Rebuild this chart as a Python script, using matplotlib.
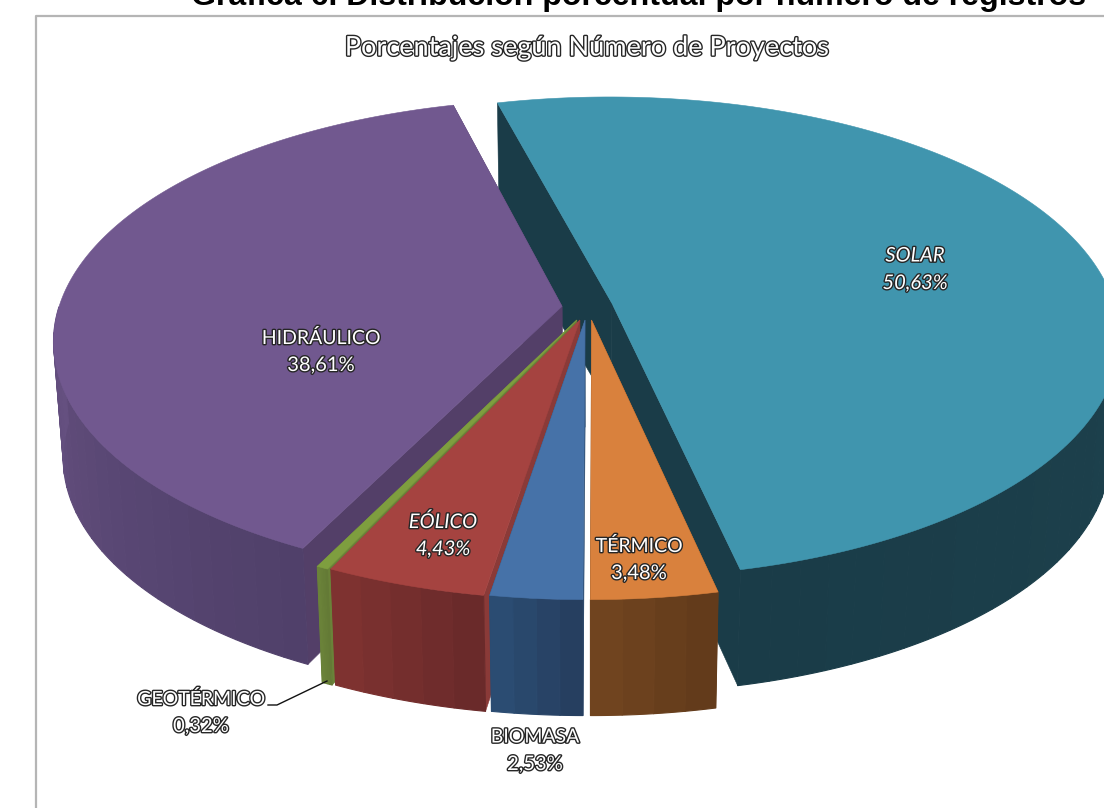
import numpy as np
import matplotlib
matplotlib.use("Agg")
import matplotlib.pyplot as plt
from matplotlib.patches import Polygon
from matplotlib.collections import PolyCollection
import matplotlib.patheffects as pe

# ---- data (order: clockwise from the front, starting with TERMICO)
categories = ["TÉRMICO", "BIOMASA", "EÓLICO", "GEOTÉRMICO", "HIDRÁULICO", "SOLAR"]
values = [3.48, 2.53, 4.43, 0.32, 38.61, 50.63]

# ---- style
first_angle = -12.4
explode = {"TÉRMICO": (.003, 0), "BIOMASA": (-.0098, 0), "EÓLICO": (-.02, 0),
           "GEOTÉRMICO": (-.026, 0), "HIDRÁULICO": (-.0556, -.0575), "SOLAR": (.0438, -.07)}
top_col = {"TÉRMICO": "#D9813D", "BIOMASA": "#4672A8", "EÓLICO": "#A54340",
           "GEOTÉRMICO": "#7E9E3F", "HIDRÁULICO": "#71588F", "SOLAR": "#4095AE"}
wall_col = {"TÉRMICO": "#70441F", "BIOMASA": "#2A4A6E", "EÓLICO": "#8A3A38",
            "GEOTÉRMICO": "#6A8239", "HIDRÁULICO": "#533F68", "SOLAR": "#1A3C48"}
side_cols = {"TÉRMICO": ("#633B1B", "#70441F"), "BIOMASA": ("#263F60", "#2B4C72"),
             "EÓLICO": ("#6A2A2A", "#7E3230"), "GEOTÉRMICO": ("#647A36", "#6A8239"),
             "HIDRÁULICO": ("#50406A", "#655080"), "SOLAR": ("#1D414D", "#1A3C48")}
label_pos = {"SOLAR": (915, 256), "HIDRÁULICO": (321, 338), "EÓLICO": (443, 522),
             "TÉRMICO": (639, 546), "GEOTÉRMICO": (201, 699), "BIOMASA": (535, 737)}
italic = {"SOLAR", "EÓLICO"}
draw_order = ["SOLAR", "HIDRÁULICO", "GEOTÉRMICO", "EÓLICO", "BIOMASA", "TÉRMICO"]

CX, CY, RX, AY, K, DEPTH = 590, 320, 507, 240, .1415, 116


def project(u, v, z=0):
    d = 1 - K * v
    x = CX + (1 - .018 * z) * RX * u / d
    y = CY + AY * v / d + z * DEPTH
    return np.column_stack([x, y])


def lerp(c1, c2, t):
    a, b = np.array(matplotlib.colors.to_rgb(c1)), np.array(matplotlib.colors.to_rgb(c2))
    return tuple(a + (b - a) * t)


fig = plt.figure(figsize=(11.04, 8.08), dpi=100, facecolor="white")
ax = fig.add_axes([0, 0, 1, 1])
ax.set_xlim(0, 1104)
ax.set_ylim(808, 0)
ax.axis("off")

# chart frame
ax.plot([36, 36, 1104], [808, 15.5, 15.5], color="#B5B5B5", lw=1.6, zorder=1)

# slices
angles = {}
start = first_angle
for c, val in zip(categories, values):
    end = start + val * 3.6
    angles[c] = (start, end)
    start = end

z = 2
for c in draw_order:
    a0, a1 = angles[c]
    th = np.radians(np.linspace(a0, a1, 721))
    du, dv = explode[c]
    # plan coordinates: angle measured clockwise from the front of the pie
    u = -np.sin(th) + du
    v = np.cos(th) + dv
    top = project(u, v, 0)
    bot = project(u, v, 1)
    apex_t = project(np.array([du]), np.array([dv]), 0)
    apex_b = project(np.array([du]), np.array([dv]), .92)
    # radial walls
    for i in (0, -1):
        q = np.vstack([apex_t, top[i], bot[i], apex_b])
        ax.add_patch(Polygon(q, closed=True, fc=wall_col[c], ec=wall_col[c], lw=.4, zorder=z))
    z += 1
    # outer side, front-facing part only, in soft gradient bands
    idx = np.nonzero(np.cos(th) > 0)[0]
    n = max(4, int((a1 - a0) * len(idx) / len(th) / 3))
    edges = np.linspace(idx[0], idx[-1], n + 1).astype(int)
    polys, cols = [], []
    for i in range(n):
        j0, j1 = edges[i], edges[i + 1] + 1
        polys.append(np.vstack([top[j0:j1], bot[j0:j1][::-1]]))
        cols.append(lerp(*side_cols[c], i / max(n - 1, 1)))
    ax.add_collection(PolyCollection(polys, facecolors=cols, edgecolors=cols, linewidths=.8, zorder=z))
    z += 1
    # top face
    ax.add_patch(Polygon(np.vstack([apex_t, top]), closed=True, fc=top_col[c], ec=top_col[c], lw=.4, zorder=z))
    z += 1

# leader line of the smallest slice
ax.plot([268, 277, 327], [705, 705, 681], color="#111111", lw=1, zorder=z)

outline = [pe.withStroke(linewidth=2.0, foreground="#262626")]
LAB = ["Lato", "DejaVu Sans"]
for c, val in zip(categories, values):
    x, y = label_pos[c]
    style = "italic" if c in italic else "normal"
    pct = f"{val:.2f}".replace(".", ",") + "%"
    for s, yy, fs in ((c, y, 14 if c not in italic else 14.5), (pct, y + 27.5, 14.5)):
        t = ax.text(x, yy, s, ha="center", va="center", fontsize=fs, family=LAB, style=style,
                    color="white", zorder=z + 1)
        t.set_path_effects(outline)

t = ax.text(587, 48, "Porcentajes según Número de Proyectos", ha="center", va="center",
            fontsize=19.5, family=LAB, color="white", zorder=z + 1)
t.set_path_effects(outline)

ax.text(638.5, 5, "Gráfica 6. Distribución porcentual por número de registros", ha="center",
        va="baseline", fontsize=23.1, family="Liberation Sans", weight="bold", color="black", zorder=z + 1)

fig.savefig("out.png", dpi=100, facecolor="white")
